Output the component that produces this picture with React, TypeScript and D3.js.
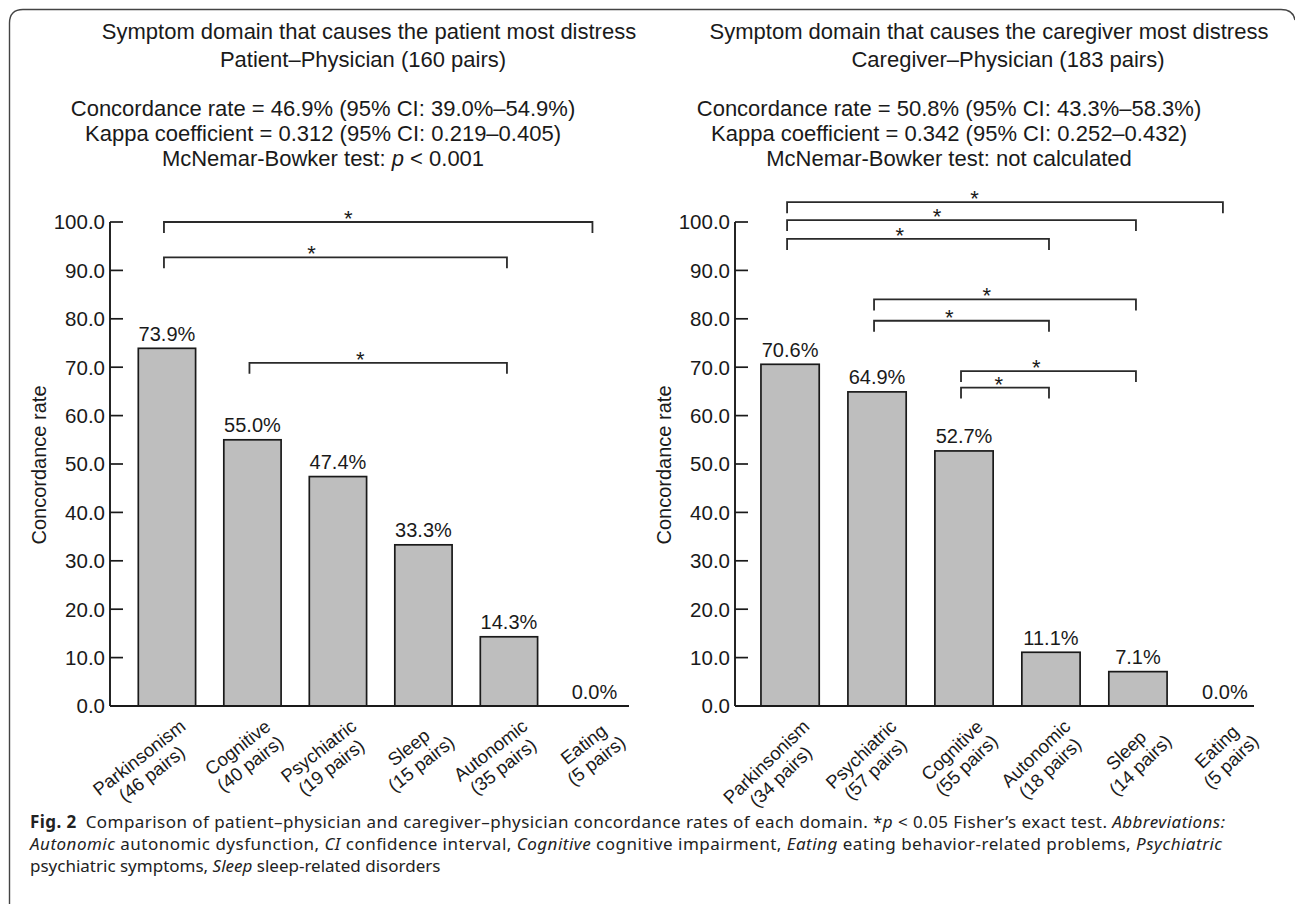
import React from "react";
import * as d3 from "d3";

// ---------- data ----------
const leftCategories = ["Parkinsonism", "Cognitive", "Psychiatric", "Sleep", "Autonomic", "Eating"];
const leftPairs = [46, 40, 19, 15, 35, 5];
const leftRates = [73.9, 55.0, 47.4, 33.3, 14.3, 0.0];
const leftBracketFrom = ["Parkinsonism", "Parkinsonism", "Cognitive"];
const leftBracketTo = ["Eating", "Autonomic", "Autonomic"];
const leftBracketLevel = [100.0, 92.7, 70.9];

const rightCategories = ["Parkinsonism", "Psychiatric", "Cognitive", "Autonomic", "Sleep", "Eating"];
const rightPairs = [34, 57, 55, 18, 14, 5];
const rightRates = [70.6, 64.9, 52.7, 11.1, 7.1, 0.0];
const rightBracketFrom = ["Parkinsonism", "Parkinsonism", "Parkinsonism", "Psychiatric", "Psychiatric", "Cognitive", "Cognitive"];
const rightBracketTo = ["Eating", "Sleep", "Autonomic", "Sleep", "Autonomic", "Sleep", "Autonomic"];
const rightBracketLevel = [104.1, 100.4, 96.5, 84.0, 79.6, 69.2, 65.8];

const yTicks = [0, 10, 20, 30, 40, 50, 60, 70, 80, 90, 100];

const leftTitle = ["Symptom domain that causes the patient most distress", "Patient–Physician (160 pairs)"];
const leftStats = [
  "Concordance rate = 46.9% (95% CI: 39.0%–54.9%)",
  "Kappa coefficient = 0.312 (95% CI: 0.219–0.405)",
];
const rightTitle = ["Symptom domain that causes the caregiver most distress", "Caregiver–Physician (183 pairs)"];
const rightStats = [
  "Concordance rate = 50.8% (95% CI: 43.3%–58.3%)",
  "Kappa coefficient = 0.342 (95% CI: 0.252–0.432)",
];
const yLabel = "Concordance rate";

// ---------- styles ----------
const SANS = "Liberation Sans, Arial, sans-serif";
const CAP = "Noto Sans, sans-serif";
const INK = "#1a1a1a";

let canvasCtx: CanvasRenderingContext2D | null = null;
function measure(text: string, font: string) {
  if (!canvasCtx) canvasCtx = document.createElement("canvas").getContext("2d");
  canvasCtx!.font = font;
  return canvasCtx!.measureText(text).width;
}

const LABEL_SIZE = 18.5;
const TITLE_SIZE = 22;

interface PanelProps {
  categories: string[];
  pairs: number[];
  rates: number[];
  bFrom: string[];
  bTo: string[];
  bLevel: number[];
  axisX: number;
  axisEnd: number;
  bandStart: number;
  bandEnd: number;
  title: string[];
  titleX: number[];
  stats: string[];
  statsX: number;
  mcnemar: React.ReactNode;
  yLabelX: number;
  labelAngle: number;
}

function Panel(p: PanelProps) {
  const y = d3.scaleLinear().domain([0, 100]).range([706, 222]);
  const x = d3
    .scaleBand<string>()
    .domain(p.categories)
    .range([p.bandStart, p.bandEnd])
    .paddingInner(0.33)
    .paddingOuter(0.165);
  const bw = x.bandwidth();
  const cx = (c: string) => (x(c) as number) + bw / 2;
  const fmt = d3.format(".1f");
  const rad = (Math.abs(p.labelAngle) * Math.PI) / 180;
  const xh = 9.5; // x-height of label font

  return (
    <g fill={INK} fontFamily={SANS}>
      {p.title.map((t, i) => (
        <text key={"t" + i} x={p.titleX[i]} y={39 + i * 28} textAnchor="middle" fontSize={TITLE_SIZE}>
          {t}
        </text>
      ))}
      {p.stats.map((t, i) => (
        <text key={"s" + i} x={p.statsX} y={116 + i * 25} textAnchor="middle" fontSize={TITLE_SIZE}>
          {t}
        </text>
      ))}
      <text x={p.statsX} y={166} textAnchor="middle" fontSize={TITLE_SIZE}>
        {p.mcnemar}
      </text>

      {/* y label */}
      <text
        transform={`translate(${p.yLabelX},${(y(0) + y(100)) / 2 + 1}) rotate(-90)`}
        textAnchor="middle"
        fontSize={20}
      >
        {yLabel}
      </text>

      {/* bars */}
      {p.categories.map((c, i) => (
        <g key={"b" + c}>
          {p.rates[i] > 0 && (
            <rect
              x={x(c)}
              y={y(p.rates[i])}
              width={bw}
              height={y(0) - y(p.rates[i])}
              fill="#bebebe"
              stroke={INK}
              strokeWidth={1.7}
            />
          )}
          <text x={cx(c)} y={y(p.rates[i]) - 7.5} textAnchor="middle" fontSize={20}>
            {fmt(p.rates[i]) + "%"}
          </text>
        </g>
      ))}

      {/* axes */}
      <line x1={p.axisX} x2={p.axisX} y1={y(100)} y2={y(0)} stroke={INK} strokeWidth={1.9} />
      <line x1={p.axisX} x2={p.axisEnd} y1={y(0)} y2={y(0)} stroke={INK} strokeWidth={1.9} />
      {yTicks.map((t) => (
        <g key={"yt" + t}>
          <line x1={p.axisX} x2={p.axisX + 13} y1={y(t)} y2={y(t)} stroke={INK} strokeWidth={1.7} />
          <text x={p.axisX - 5} y={y(t) + 7.3} textAnchor="end" fontSize={20.5}>
            {fmt(t)}
          </text>
        </g>
      ))}

      {/* x labels: block right-aligned at the tick, lines centred in the block */}
      {p.categories.map((c, i) => {
        const l1 = c;
        const l2 = `(${p.pairs[i]} pairs)`;
        const font = `${LABEL_SIZE}px 'Liberation Sans'`;
        const w = Math.max(measure(l1, font), measure(l2, font));
        const ax = cx(c) + 14 + xh * Math.sin(rad);
        const ay = y(0) + 15 + xh * Math.cos(rad);
        return (
          <g key={"xl" + c} transform={`translate(${ax},${ay}) rotate(${p.labelAngle})`}>
            <text x={-w / 2} y={0} textAnchor="middle" fontSize={LABEL_SIZE}>
              {l1}
            </text>
            <text x={-w / 2} y={20.5} textAnchor="middle" fontSize={LABEL_SIZE}>
              {l2}
            </text>
          </g>
        );
      })}

      {/* significance brackets */}
      {p.bFrom.map((f, i) => {
        const x1 = cx(f) - 3;
        const x2 = cx(p.bTo[i]) - 2;
        const yy = y(p.bLevel[i]);
        return (
          <g key={"br" + i}>
            <path
              d={`M${x1},${yy + 11}V${yy}H${x2}V${yy + 11}`}
              fill="none"
              stroke="#2a2a2a"
              strokeWidth={1.8}
            />
            <text x={x1 + (x2 - x1) * 0.43} y={yy + 4} textAnchor="middle" fontSize={22}>
              *
            </text>
          </g>
        );
      })}
    </g>
  );
}

export default function App() {
  return (
    <svg width={1295} height={904} style={{ position: "absolute", left: 0, top: 0, background: "#fff" }}>
      <rect width={1295} height={904} fill="#fff" />
      {/* frame */}
      <path d="M9.5,904 V23 Q9.5,9.5 23,9.5 H1281 Q1293,9.5 1295,20" fill="none" stroke="#444" strokeWidth={1.4} />

      <Panel
        categories={leftCategories}
        pairs={leftPairs}
        rates={leftRates}
        bFrom={leftBracketFrom}
        bTo={leftBracketTo}
        bLevel={leftBracketLevel}
        axisX={110}
        axisEnd={629}
        bandStart={124.2}
        bandEnd={637.2}
        title={leftTitle}
        titleX={[369, 363]}
        stats={leftStats}
        statsX={323}
        mcnemar={
          <>
            McNemar-Bowker test: <tspan fontStyle="italic">p</tspan> &lt; 0.001
          </>
        }
        yLabelX={46}
        labelAngle={-38}
      />
      <Panel
        categories={rightCategories}
        pairs={rightPairs}
        rates={rightRates}
        bFrom={rightBracketFrom}
        bTo={rightBracketTo}
        bLevel={rightBracketLevel}
        axisX={735}
        axisEnd={1254}
        bandStart={746.6}
        bandEnd={1268.4}
        title={rightTitle}
        titleX={[989, 1008]}
        stats={rightStats}
        statsX={949}
        mcnemar={<>McNemar-Bowker test: not calculated</>}
        yLabelX={671}
        labelAngle={-44}
      />

      {/* caption */}
      <g fontFamily={CAP} fontSize={17} fill="#222">
        <text x={30} y={828} textLength={1195} lengthAdjust="spacing">
          <tspan fontWeight="bold">Fig. 2</tspan>
          <tspan>{"\u2002Comparison of patient–physician and caregiver–physician concordance rates of each domain. *"}</tspan>
          <tspan fontStyle="italic">p</tspan>
          <tspan>{" < 0.05 Fisher’s exact test. "}</tspan>
          <tspan fontStyle="italic">Abbreviations:</tspan>
        </text>
        <text x={30} y={850} textLength={1192} lengthAdjust="spacing">
          <tspan fontStyle="italic">Autonomic</tspan>
          <tspan>{" autonomic dysfunction, "}</tspan>
          <tspan fontStyle="italic">CI</tspan>
          <tspan>{" confidence interval, "}</tspan>
          <tspan fontStyle="italic">Cognitive</tspan>
          <tspan>{" cognitive impairment, "}</tspan>
          <tspan fontStyle="italic">Eating</tspan>
          <tspan>{" eating behavior-related problems, "}</tspan>
          <tspan fontStyle="italic">Psychiatric</tspan>
        </text>
        <text x={30} y={872}>
          <tspan>{"psychiatric symptoms, "}</tspan>
          <tspan fontStyle="italic">Sleep</tspan>
          <tspan>{" sleep-related disorders"}</tspan>
        </text>
      </g>
    </svg>
  );
}
